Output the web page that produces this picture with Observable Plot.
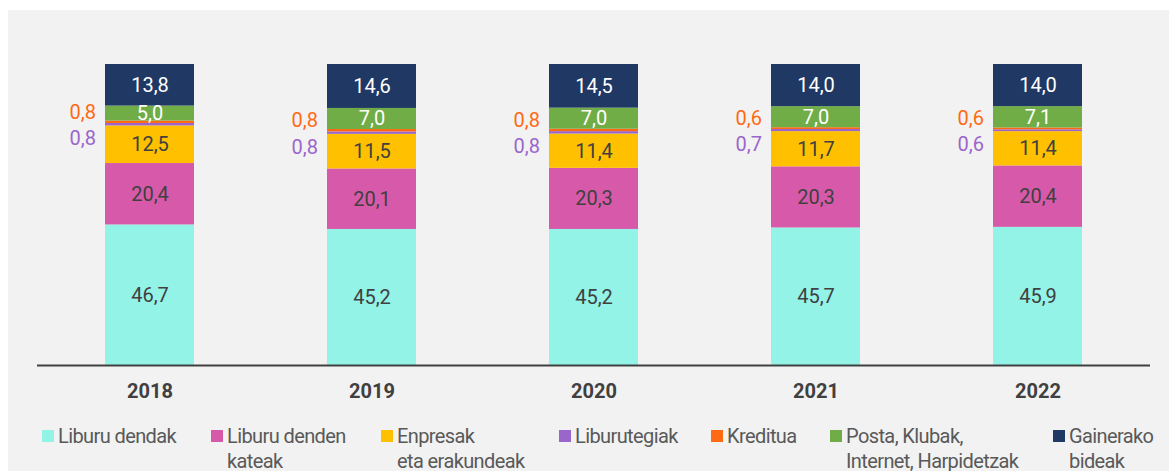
<!DOCTYPE html>
<html>
<head>
<meta charset="utf-8">
<script src="https://cdn.jsdelivr.net/npm/d3@7"></script>
<script src="https://cdn.jsdelivr.net/npm/@observablehq/plot@0.6"></script>
<style>
  html, body { margin: 0; padding: 0; background: #ffffff; }
  body { width: 1169px; height: 471px; overflow: hidden; position: relative; font-family: Roboto, "Noto Sans", sans-serif; }
  #panel { position: absolute; left: 8px; top: 10px; width: 1161px; height: 461px; background: #f2f2f2; }
  #chart { position: absolute; left: 0; top: 0; }
  .leg { position: absolute; top: 414px; font-size: 20px; line-height: 25px; color: #595959; letter-spacing: -0.6px; white-space: nowrap; }
  .leg .sw { position: absolute; left: 0; top: 6px; width: 12px; height: 12px; }
  .leg .tx { position: absolute; left: 16px; top: 0; }
</style>
</head>
<body>
<div id="panel"><div id="chart"></div></div>
<script>
const years = ["2018", "2019", "2020", "2021", "2022"];
const categories = ["Liburu dendak", "Liburu denden kateak", "Enpresak eta erakundeak", "Liburutegiak", "Kreditua", "Posta, Klubak, Internet, Harpidetzak", "Gainerako bideak"];
const legendLabels = [["Liburu dendak"], ["Liburu denden", "kateak"], ["Enpresak", "eta erakundeak"], ["Liburutegiak"], ["Kreditua"], ["Posta, Klubak,", "Internet, Harpidetzak"], ["Gainerako", "bideak"]];
const colors = ["#93f3e6", "#d75aaa", "#ffc000", "#9b66cc", "#ff6a13", "#70ad47", "#1f3864"];

const liburuDendak   = [46.7, 45.2, 45.2, 45.7, 45.9];
const liburuKateak   = [20.4, 20.1, 20.3, 20.3, 20.4];
const enpresak       = [12.5, 11.5, 11.4, 11.7, 11.4];
const liburutegiak   = [0.8, 0.8, 0.8, 0.7, 0.6];
const kreditua       = [0.8, 0.8, 0.8, 0.6, 0.6];
const posta          = [5.0, 7.0, 7.0, 7.0, 7.1];
const gainerako      = [13.8, 14.6, 14.5, 14.0, 14.0];

const series = [liburuDendak, liburuKateak, enpresak, liburutegiak, kreditua, posta, gainerako];
const data = [];
years.forEach((y, i) => series.forEach((s, k) => data.push({year: y, series: categories[k], value: s[i]})));

const fmt = v => v.toFixed(1).replace(".", ",");
const whiteSeries = new Set(["Posta, Klubak, Internet, Harpidetzak", "Gainerako bideak"]);
const smallSeries = new Set(["Liburutegiak", "Kreditua"]);
const stk = (extra) => Plot.stackY({x: "year", y: "value", z: "series", order: categories, ...extra});

const plot = Plot.plot({
  width: 1161,
  height: 400,
  marginLeft: 29,
  marginRight: 19,
  marginTop: 54,
  marginBottom: 45,
  style: {background: "transparent", fontFamily: "Roboto, sans-serif", overflow: "visible"},
  x: {domain: years, paddingInner: 0.6, paddingOuter: 0.3, label: null},
  y: {domain: [0, 100], axis: null},
  color: {domain: categories, range: colors},
  marks: [
    Plot.barY(data, stk({fill: "series"})),
    Plot.text(data, stk({
      text: d => (smallSeries.has(d.series) || whiteSeries.has(d.series)) ? "" : fmt(d.value),
      fill: "#404040", fontSize: 20
    })),
    Plot.text(data, stk({
      text: d => whiteSeries.has(d.series) ? fmt(d.value) : "",
      fill: "#ffffff", fontSize: 20
    })),
    Plot.text(data, stk({
      text: d => d.series === "Kreditua" ? fmt(d.value) : "",
      fill: "#ff6a13", fontSize: 20, textAnchor: "end", dx: -54, dy: -10
    })),
    Plot.text(data, stk({
      text: d => d.series === "Liburutegiak" ? fmt(d.value) : "",
      fill: "#9b66cc", fontSize: 20, textAnchor: "end", dx: -54, dy: 14
    })),
    Plot.ruleY([0], {stroke: "#404040", strokeWidth: 2}),
    Plot.axisX({tickSize: 0, tickPadding: 18, fontSize: 20, fontWeight: "bold", fill: "#404040", label: null})
  ]
});
document.getElementById("chart").appendChild(plot);

const legX = [34, 203, 373, 551, 703, 822, 1045];
const panel = document.getElementById("panel");
categories.forEach((c, i) => {
  const div = document.createElement("div");
  div.className = "leg";
  div.style.left = legX[i] + "px";
  const sw = document.createElement("div");
  sw.className = "sw";
  sw.style.background = colors[i];
  const tx = document.createElement("div");
  tx.className = "tx";
  tx.innerHTML = legendLabels[i].join("<br>");
  div.appendChild(sw);
  div.appendChild(tx);
  panel.appendChild(div);
});
</script>
</body>
</html>
